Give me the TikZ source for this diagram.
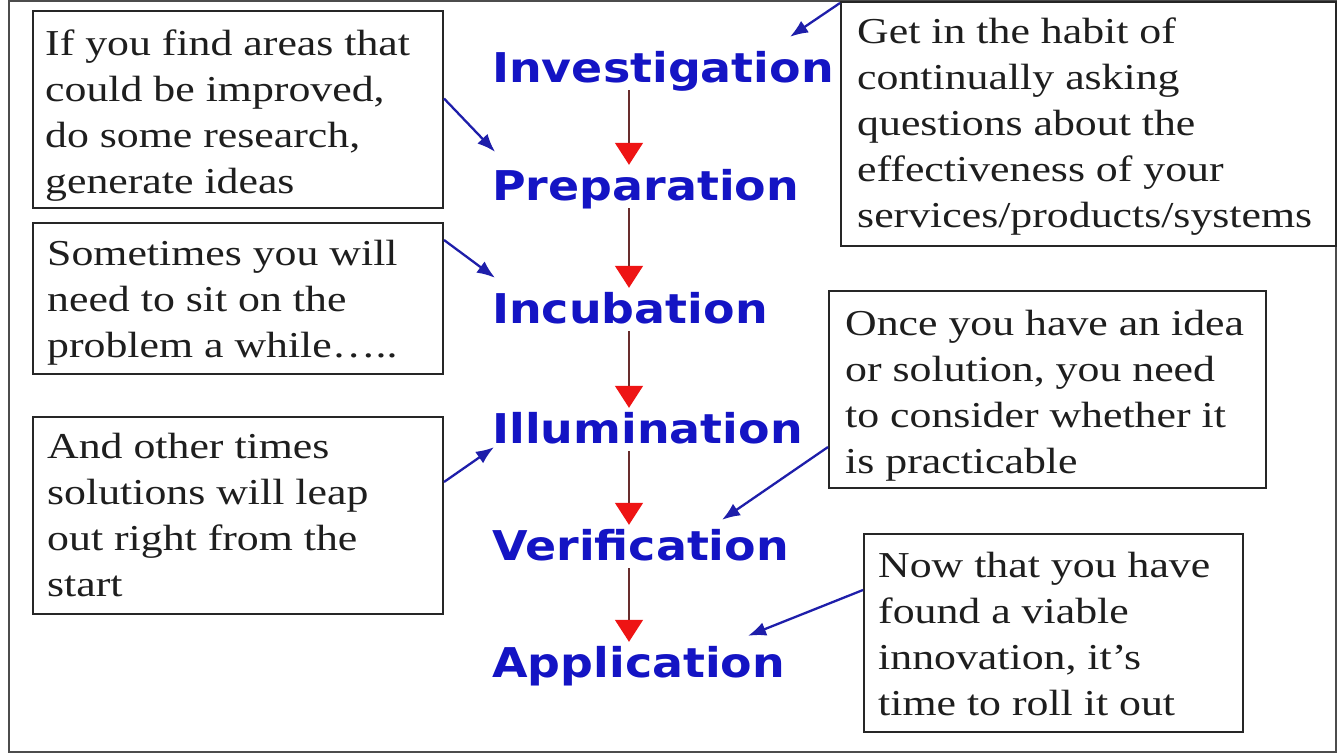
\documentclass[tikz,border=0pt]{standalone}
\usepackage{fontspec}
\usetikzlibrary{arrows.meta}
\newfontfamily\boxfont[FakeStretch=1.2]{Liberation Serif}
\newfontfamily\stagefont[FakeStretch=1.12]{DejaVu Sans}
\definecolor{stageblue}{RGB}{20,20,196}
\definecolor{arrblue}{RGB}{30,30,170}
\definecolor{headred}{RGB}{238,20,20}
\definecolor{stemred}{RGB}{105,45,45}
\definecolor{inktext}{RGB}{30,30,30}
\tikzset{
  boxframe/.style={draw=black!85, line width=2pt, rectangle, anchor=north west, inner sep=0pt},
  boxtext/.style={anchor=north west, inner sep=0pt, align=left, text=inktext,
    font=\boxfont\fontsize{36.5}{46}\selectfont},
  stagelabel/.style={anchor=base west, inner sep=0pt, text=stageblue, text height=30pt, text depth=0pt,
    font=\stagefont\bfseries\fontsize{41}{48}\selectfont},
  redarr/.style={draw=stemred, line width=1.5pt, shorten <=8pt, shorten >=5pt,
    -{Triangle[length=22pt,width=28pt,color=headred]}},
  bluearr/.style={draw=arrblue, line width=2.3pt, -{Latex[length=18pt,width=14pt]}}
}
\begin{document}
\begin{tikzpicture}[x=1pt,y=-1pt]
\useasboundingbox (0,0) rectangle (1338,755);
\fill[white] (0,0) rectangle (1338,755);
% outer frame
\draw[draw=black!70, line width=2pt] (9,1) rectangle (1336,752);

% stage labels
\node[stagelabel] (inv)  at (492,82)  {Investigation};
\node[stagelabel] (prep) at (492,200) {Preparation};
\node[stagelabel] (incu) at (492,323) {Incubation};
\node[stagelabel] (illu) at (492,443) {Illumination};
\node[stagelabel] (veri) at (492,560) {Verification};
\node[stagelabel] (appl) at (492,677) {Application};

\coordinate (ax) at (629,0);
\draw[redarr] (inv.south -| ax) -- (prep.north -| ax);
\draw[redarr] (prep.south -| ax) -- (incu.north -| ax);
\draw[redarr] (incu.south -| ax) -- (illu.north -| ax);
\draw[redarr] (illu.south -| ax) -- (veri.north -| ax);
\draw[redarr] (veri.south -| ax) -- (appl.north -| ax);

% boxes
\node[boxframe, minimum width=410pt, minimum height=197pt] (b1) at (32,10) {};
\node[boxframe, minimum width=410pt, minimum height=151pt] (b2) at (32,222) {};
\node[boxframe, minimum width=410pt, minimum height=197pt] (b3) at (32,416) {};
\node[boxframe, minimum width=495pt, minimum height=244pt] (b4) at (840,1) {};
\node[boxframe, minimum width=437pt, minimum height=197pt] (b5) at (828,290) {};
\node[boxframe, minimum width=379pt, minimum height=198pt] (b6) at (863,533) {};

\node[boxtext] (t1) at (45,10) {\rule{0pt}{45pt}If you find areas that\\could be improved,\\do some research,\\generate ideas};
\node[boxtext] (t2) at (47,222) {\rule{0pt}{43pt}Sometimes you will\\need to sit on the\\problem a while\dots..};
\node[boxtext] (t3) at (47,416) {\rule{0pt}{42pt}And other times\\solutions will leap\\out right from the\\start};
\node[boxtext] (t4) at (857,1) {\rule{0pt}{42pt}Get in the habit of\\continually asking\\questions about the\\effectiveness of your\\services/products/systems};
\node[boxtext] (t5) at (845,290) {\rule{0pt}{45pt}Once you have an idea\\or solution, you need\\to consider whether it\\is practicable};
\node[boxtext] (t6) at (878,533) {\rule{0pt}{44pt}Now that you have\\found a viable\\innovation, it’s\\time to roll it out};

% blue connectors
\draw[bluearr] ([yshift=11pt]b1.east) -- ([xshift=3pt,yshift=18pt]prep.north west);
\draw[bluearr] ([yshift=-18pt]b2.north east) -- ([xshift=3pt,yshift=15pt]incu.north west);
\draw[bluearr] ([yshift=-66pt]b3.north east) -- ([xshift=2pt,yshift=-4pt]illu.south west);
\draw[bluearr] ([yshift=-2pt]b4.north west) -- ([xshift=298pt,yshift=15pt]inv.north west);
\draw[bluearr] ([yshift=-157pt]b5.north west) -- ([xshift=230pt,yshift=10pt]veri.north west);
\draw[bluearr] ([yshift=-57pt]b6.north west) -- ([xshift=256pt,yshift=11pt]appl.north west);
\end{tikzpicture}
\end{document}
